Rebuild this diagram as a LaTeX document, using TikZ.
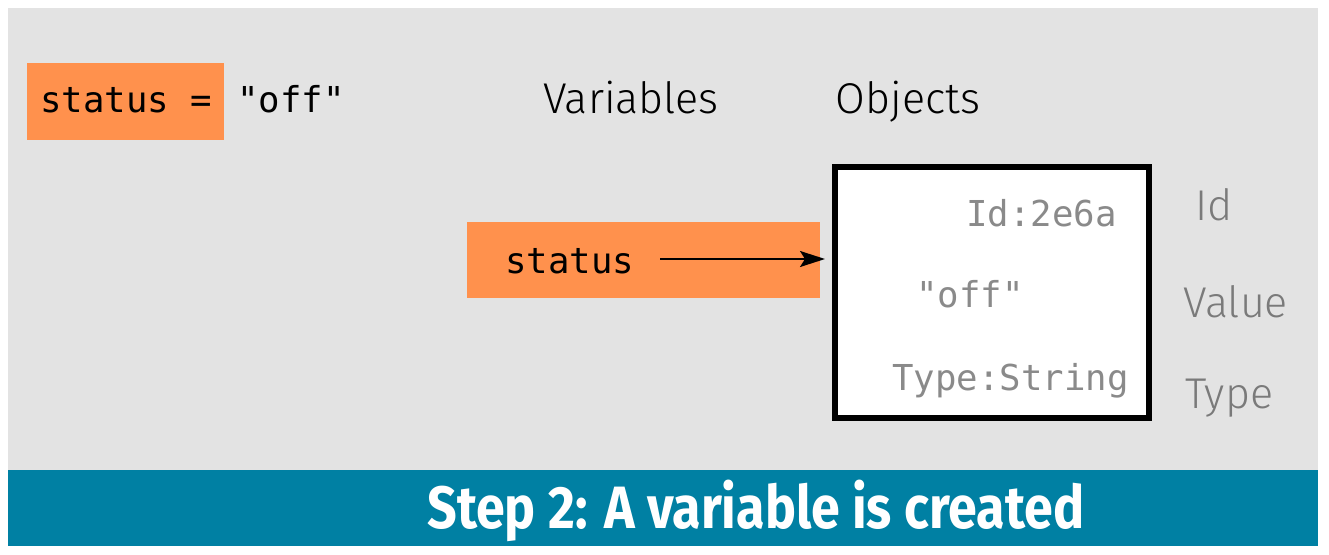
\documentclass[tikz,border=0pt]{standalone}
\usepackage{fontspec}
\setmainfont{Fira Sans}
\newfontfamily\lightsans{Fira Sans Light}
\newfontfamily\codefont{DejaVu Sans Mono}
\newfontfamily\titlefont[FakeStretch=0.87]{Fira Sans}
\usetikzlibrary{arrows.meta}
\definecolor{bggray}{HTML}{E3E3E3}
\definecolor{varorange}{HTML}{FF914D}
\definecolor{barteal}{HTML}{0080A3}
\definecolor{labelgray}{HTML}{7A7A7A}
\definecolor{codegray}{HTML}{8A8A8A}
\tikzset{
  code/.style={font=\codefont\fontsize{20.3}{24}\selectfont, inner sep=0pt},
  label/.style={font=\lightsans\fontsize{24.5}{29}\selectfont, inner sep=0pt}
}
\begin{document}
\begin{tikzpicture}[x=0.2mm, y=-0.2mm]
    \useasboundingbox (0, 0) rectangle (1329, 555);
    \fill [bggray] (8, 8) rectangle (1318, 470);
    \fill [barteal] (8, 470) rectangle (1318, 546);
    % the assignment
    \node [fill=varorange, minimum width=39.4mm, minimum height=15.4mm, inner sep=0pt] (assign) at (125.5, 101.5) {};
    \node [code, anchor=base west] (assigntext) at (40, 113) {status =};
    \node [code, anchor=base west] (assignvalue) at (237, 113) {"off"};
    % headings
    \node [label, anchor=base] (variables) at (631, 114) {Variables};
    \node [label, anchor=base] (objects) at (908, 114) {Objects};
    % variable and object
    \node [fill=varorange, minimum width=70.6mm, minimum height=15.2mm, inner sep=0pt] (varbox) at (643.5, 260) {};
    \node [code, anchor=base west] (varname) at (505, 273) {status};
    \node [draw, fill=white, line width=3.4pt, minimum width=62.8mm, minimum height=50.2mm, inner sep=0pt] (obj) at (992, 292.5) {};
    \node [code, codegray, anchor=base east] (objid) at (1117, 227) {Id:2e6a};
    \node [code, codegray, anchor=base] (objvalue) at (970, 307) {"off"};
    \node [code, codegray, anchor=base east] (objtype) at (1129, 390) {Type:String};
    \coordinate (arrowstart) at (660, 259);
    \draw [line width=1.1pt, -{Stealth[length=5mm, width=3.2mm, inset=1mm]}, shorten >=1.4mm] (arrowstart) -- (arrowstart -| obj.west);
    % what an object has
    \node [label, labelgray, anchor=base west] (idlabel) at (1195, 220) {Id};
    \node [label, labelgray, anchor=base west] (valuelabel) at (1183, 317) {Value};
    \node [label, labelgray, anchor=base west] (typelabel) at (1185, 408) {Type};
    % caption
    \node [anchor=base west, text=white, inner sep=0pt, font=\titlefont\bfseries\fontsize{34}{40}\selectfont] (caption) at (427, 528) {Step 2: A variable is created};
\end{tikzpicture}
\end{document}
